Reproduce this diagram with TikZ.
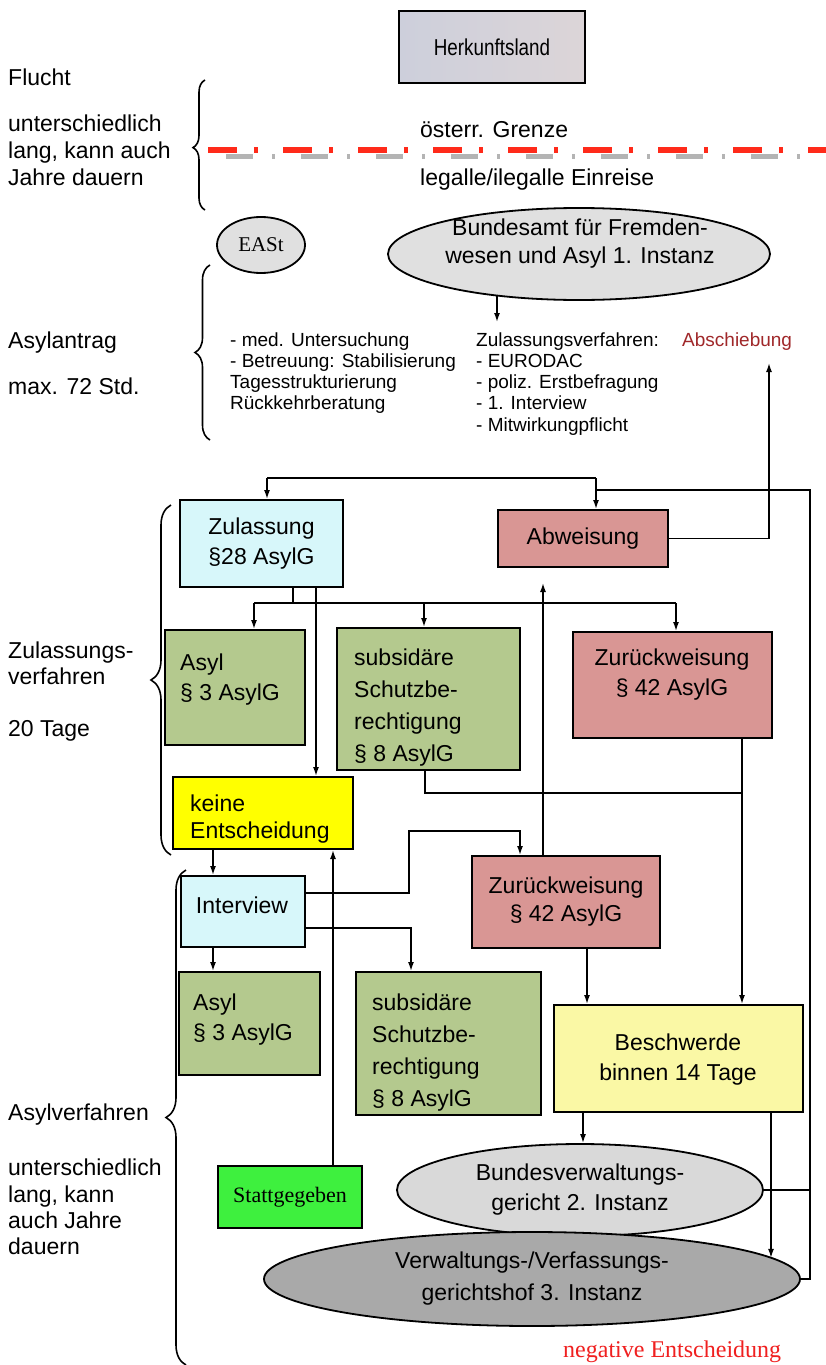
\documentclass[tikz,border=0pt]{standalone}
\usepackage{fontspec}
\setmainfont{Liberation Sans}
\newfontfamily\seriffont{Liberation Serif}
\usetikzlibrary{arrows.meta,decorations.pathreplacing,shapes.geometric}
\definecolor{herkL}{HTML}{CDCFDB}
\definecolor{herkR}{HTML}{DCD5D8}
\definecolor{cyanbox}{HTML}{D7F7FA}
\definecolor{rose}{HTML}{D99694}
\definecolor{olive}{HTML}{B4C98E}
\definecolor{ylw}{HTML}{FFFF00}
\definecolor{lyellow}{HTML}{FAF8A5}
\definecolor{brightgreen}{HTML}{3EF03E}
\definecolor{ellA}{HTML}{E0E0E0}
\definecolor{ellB}{HTML}{D9D9D9}
\definecolor{ellC}{HTML}{A9A9A9}
\definecolor{darkred}{HTML}{A0282A}
\definecolor{negred}{HTML}{F02020}
\definecolor{borderred}{HTML}{FF2A1A}
\definecolor{bordergray}{HTML}{B4B4B4}
\begin{document}
\begin{tikzpicture}[x=1pt,y=-1pt,
  box/.style={draw=black, line width=2pt, inner sep=0pt, font=\fontsize{23}{30}\selectfont, align=center},
  btxt/.style={inner sep=0pt, font=\fontsize{23}{30}\selectfont, align=center},
  ltxt/.style={inner sep=0pt, font=\fontsize{23}{30}\selectfont, align=left, anchor=west},
  ell/.style={draw=black, line width=1.8pt, ellipse, inner sep=0pt, font=\fontsize{23}{30}\selectfont, align=center},
  conn/.style={line width=1.5pt},
  arr/.style={conn, -{Latex[length=9pt,width=6pt]}},
  lbl/.style={inner sep=0pt, font=\fontsize{23}{27}\selectfont, anchor=base west},
  lst/.style={inner sep=0pt, font=\fontsize{19}{21}\selectfont, anchor=base west},
  brc/.style={decorate, line width=1.6pt}
]
\useasboundingbox[fill=white] (0,0) rectangle (826,1365);

% ---- top section ----
\node[box, left color=herkL, right color=herkR, minimum width=186pt, minimum height=72pt, font=\fontsize{23}{27}\selectfont] (herk) at (492,47) {\scalebox{0.82}[1]{Herkunftsland}};

\node[lbl] (l1) at (8,85) {Flucht};
\node[lbl] (l2) at (8,131) {unterschiedlich};
\node[lbl] (l3) at (8,158) {lang, kann auch};
\node[lbl] (l4) at (8,185) {Jahre dauern};
\draw[brc, decoration={brace, amplitude=12pt, aspect=0.48}] (205,210) -- (205,80);

\node[lbl] (grenze) at (420,137) {österr. Grenze};
\node[lbl] (einreise) at (420,185) {legalle/ilegalle Einreise};
\draw[bordergray, line width=5pt, dash pattern=on 27pt off 19pt on 3pt off 26pt] (226,156) -- (826,156);
\draw[borderred, line width=6pt, dash pattern=on 29pt off 17pt on 4pt off 25pt] (208,150) -- (826,150);

% ---- Asylantrag ----
\node[ell, fill=ellA, minimum width=88pt, minimum height=56pt, font=\seriffont\fontsize{21}{24}\selectfont] (east) at (261,245) {EASt};
\node[ell, fill=ellA, minimum width=382pt, minimum height=92pt] (bfa) at (579,254) {};
\node[btxt, font=\fontsize{23}{28}\selectfont] (bfatext) at (580,244) {Bundesamt für Fremden-\\wesen und Asyl 1. Instanz};

\node[lbl] (l5) at (8,348) {Asylantrag};
\node[lbl] (l6) at (8,394) {max. 72 Std.};
\draw[brc, decoration={brace, amplitude=15pt, aspect=0.5}] (210,440) -- (210,265);

\node[lst] (m1) at (230,346) {- med. Untersuchung};
\node[lst] (m2) at (230,367) {- Betreuung: Stabilisierung};
\node[lst] (m3) at (230,388) {Tagesstrukturierung};
\node[lst] (m4) at (230,409) {Rückkehrberatung};

\node[lst] (z1) at (476,346) {Zulassungsverfahren:};
\node[lst] (z2) at (476,367) {- EURODAC};
\node[lst] (z3) at (476,388) {- poliz. Erstbefragung};
\node[lst] (z4) at (476,409) {- 1. Interview};
\node[lst] (z5) at (476,431) {- Mitwirkungpflicht};

\node[lst, text=darkred] (absch) at (682,346) {Abschiebung};

\coordinate (bf) at (497,322);
\draw[arr] (bf |- bfa.206.9) -- (bf);

% ---- Zulassungsverfahren ----
\node[lbl] (l7) at (8,658) {Zulassungs-};
\node[lbl] (l8) at (8,684) {verfahren};
\node[lbl] (l9) at (8,736) {20 Tage};
\draw[brc, decoration={brace, amplitude=20pt, aspect=0.5}] (171,855) -- (171,505);

\node[box, fill=cyanbox, minimum width=163pt, minimum height=87pt] (zul) at (261.5,543.5) {Zulassung\\§28 AsylG};
\node[box, fill=rose, minimum width=170pt, minimum height=57pt] (abw) at (583,538.5) {Abweisung};
\node[box, fill=olive, minimum width=140pt, minimum height=115pt] (asyl1) at (235,687.5) {};
\node[ltxt] (asyl1t) at (180,680) {Asyl\\§ 3 AsylG};
\node[box, fill=olive, minimum width=183pt, minimum height=142pt] (sub1) at (428.5,699) {};
\node[ltxt, font=\fontsize{23}{32}\selectfont] (sub1t) at (354,708) {subsidäre\\Schutzbe-\\rechtigung\\§ 8 AsylG};
\node[box, fill=rose, minimum width=199pt, minimum height=106pt] (zur1) at (672.5,685) {};
\node[btxt] (zur1t) at (672,675) {Zurückweisung\\§ 42 AsylG};
\node[box, fill=ylw, minimum width=180pt, minimum height=72pt] (keine) at (263,813) {};
\node[ltxt, font=\fontsize{23}{27}\selectfont] (keinet) at (190,819) {keine\\Entscheidung};

% ---- Asylverfahren ----
\node[lbl] (l10) at (8,1120) {Asylverfahren};
\node[lbl] (l11) at (8,1175) {unterschiedlich};
\node[lbl] (l12) at (8,1202) {lang, kann};
\node[lbl] (l13) at (8,1228) {auch Jahre};
\node[lbl] (l14) at (8,1254) {dauern};
\draw[brc, decoration={brace, amplitude=20pt, aspect=0.5}] (186,1365) -- (186,870);

\node[box, fill=cyanbox, minimum width=124pt, minimum height=71pt] (interview) at (243,911.5) {};
\node[btxt] (interviewt) at (242,905) {Interview};
\node[box, fill=rose, minimum width=188pt, minimum height=92pt, font=\fontsize{23}{28}\selectfont] (zur2) at (566,902) {Zurückweisung\\§ 42 AsylG};
\node[box, fill=olive, minimum width=141pt, minimum height=103pt] (asyl2) at (249.5,1023.5) {};
\node[ltxt] (asyl2t) at (193,1020) {Asyl\\§ 3 AsylG};
\node[box, fill=olive, minimum width=185pt, minimum height=143pt] (sub2) at (448.5,1043.5) {};
\node[ltxt, font=\fontsize{23}{32}\selectfont] (sub2t) at (372,1053) {subsidäre\\Schutzbe-\\rechtigung\\§ 8 AsylG};
\node[box, fill=lyellow, minimum width=249pt, minimum height=107pt] (besch) at (678.5,1058.5) {};
\node[btxt] (bescht) at (678,1060) {Beschwerde\\binnen 14 Tage};
\node[box, fill=brightgreen, minimum width=144pt, minimum height=62pt, font=\seriffont\fontsize{22}{25}\selectfont] (statt) at (290,1197) {Stattgegeben};
\node[ell, fill=ellB, minimum width=366pt, minimum height=92pt] (bvwg) at (580,1190) {Bundesverwaltungs-\\gericht 2. Instanz};
\node[ell, fill=ellC, minimum width=536pt, minimum height=94pt, font=\fontsize{23}{32}\selectfont] (vwgh) at (532,1279) {Verwaltungs-/Verfassungs-\\gerichtshof 3. Instanz};
\node[inner sep=0pt, anchor=base west, text=negred, font=\seriffont\fontsize{24}{26}\selectfont] (neg) at (563,1357) {negative Entscheidung};

% ---- connectors ----
\coordinate (t1) at (267,478);
\coordinate (t2) at (596,478);
\coordinate (t3) at (596,490);
\coordinate (t4) at (810,490);
\draw[conn] (vwgh.east) -| (t4) -- (t3);
\draw[conn] (bvwg.east) -- (bvwg.east -| t4);
\draw[arr] (t2) -- (abw.north -| t2);
\draw[conn] (t2) -- (t1);
\draw[arr] (t1) -- (zul.north -| t1);

\coordinate (ab1) at (769,363);
\draw[arr] (abw.east) -| (ab1);

\coordinate (bz) at (293,603);
\coordinate (b1) at (254,603);
\coordinate (b2) at (424,603);
\coordinate (b3) at (676,603);
\draw[conn] (zul.south -| bz) -- (bz);
\draw[conn] (b1) -- (b3);
\draw[arr] (b1) -- (asyl1.north -| b1);
\draw[arr] (b2) -- (sub1.north -| b2);
\draw[arr] (b3) -- (zur1.north -| b3);

\coordinate (x316) at (316,0);
\draw[arr] (zul.south -| x316) -- (keine.north -| x316);

\coordinate (za) at (543,583);
\draw[arr] (zur2.north -| za) -- (za);

\coordinate (s1) at (425,793);
\coordinate (s2) at (742,793);
\draw[conn] (sub1.south -| s1) -- (s1) -- (s2);
\draw[arr] (zur1.south -| s2) -- (besch.north -| s2);

\coordinate (x213) at (213,0);
\draw[arr] (keine.south -| x213) -- (interview.north -| x213);
\draw[arr] (interview.south -| x213) -- (asyl2.north -| x213);

\coordinate (i1) at (409,893);
\coordinate (i2) at (409,831);
\coordinate (i3) at (520,831);
\draw[arr] (interview.east |- i1) -- (i1) -- (i2) -- (i3) -- (zur2.north -| i3);
\coordinate (j1) at (411,928);
\draw[arr] (interview.east |- j1) -- (j1) -- (sub2.north -| j1);

\coordinate (x333) at (333,0);
\draw[arr] (statt.north -| x333) -- (keine.south -| x333);

\coordinate (x587) at (587,0);
\draw[arr] (zur2.south -| x587) -- (besch.north -| x587);
\coordinate (x583) at (583,0);
\draw[arr] (besch.south -| x583) -- (bvwg.north -| x583);
\coordinate (x771) at (771,0);
\draw[arr] (besch.south -| x771) -- (x771 |- vwgh.5.1);
\end{tikzpicture}
\end{document}
